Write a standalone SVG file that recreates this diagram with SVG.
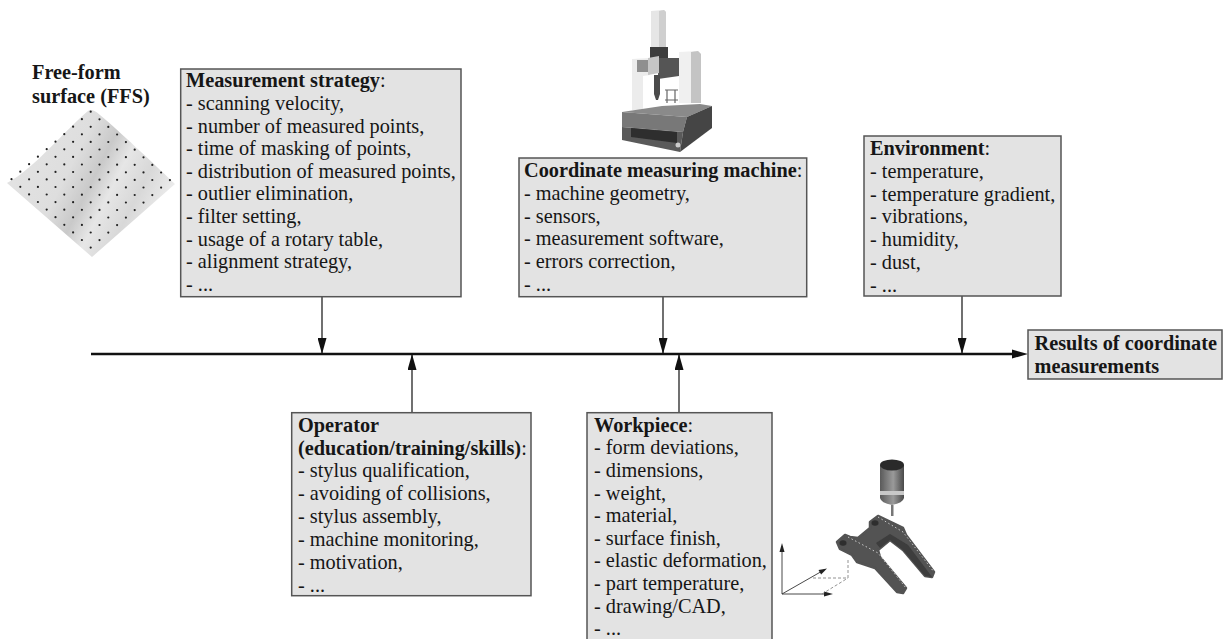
<svg xmlns="http://www.w3.org/2000/svg" width="1225" height="639" viewBox="0 0 1225 639">
<style>
text{font-family:"Liberation Serif","Times New Roman",serif;font-size:20.3px;fill:#161616}
.b{font-weight:bold}
.box{fill:#e3e3e3;stroke:#555;stroke-width:1.5}
.c{stroke:#111;stroke-width:1.2;fill:none}
.main{stroke:#111;stroke-width:2.6;fill:none}
.ax{stroke:#333;stroke-width:.9;fill:none}
.axd{stroke:#777;stroke-width:.8;stroke-dasharray:3 2;fill:none}
.d{fill:#222}
</style>
<defs>
<marker id="ah" markerUnits="userSpaceOnUse" markerWidth="16" markerHeight="9" refX="16" refY="4.5" orient="auto" viewBox="0 0 16 9"><path d="M0 0L16 4.5L0 9Z" fill="#111"/></marker>
<linearGradient id="s" gradientUnits="userSpaceOnUse" x1="30" y1="150" x2="160" y2="215">
<stop offset="0" stop-color="#e2e2e2"/><stop offset=".3" stop-color="#dedede"/><stop offset=".48" stop-color="#c9c9c9"/><stop offset=".62" stop-color="#e6e6e6"/><stop offset=".8" stop-color="#d8d8d8"/><stop offset="1" stop-color="#ececec"/>
</linearGradient>
<linearGradient id="cyl" x1="0" x2="1" y1="0" y2="0"><stop offset="0" stop-color="#5a5a5a"/><stop offset=".55" stop-color="#9a9a9a"/><stop offset="1" stop-color="#4a4a4a"/></linearGradient>
<filter id="soft" x="-5%" y="-5%" width="110%" height="110%"><feGaussianBlur stdDeviation=".45"/></filter>
<g id="row"><circle class="d" cx="0" cy="0" r="1.1"/><circle class="d" cx="8.800" cy="7.600" r="1.1"/><circle class="d" cx="17.600" cy="15.200" r="1.1"/><circle class="d" cx="26.400" cy="22.800" r="1.1"/><circle class="d" cx="35.200" cy="30.400" r="1.1"/><circle class="d" cx="44" cy="38" r="1.1"/><circle class="d" cx="52.800" cy="45.600" r="1.1"/><circle class="d" cx="61.600" cy="53.200" r="1.1"/><circle class="d" cx="70.400" cy="60.800" r="1.1"/><circle class="d" cx="79.200" cy="68.400" r="1.1"/></g>
</defs>
<rect width="1225" height="639" fill="#fff"/>

<g id="connectors">
<path class="main" d="M91 354H1014"/>
<path d="M1028 354L1012 349.500V358.500Z" fill="#111"/>
<path class="c" d="M322 297V354" marker-end="url(#ah)"/>
<path class="c" d="M663 297V354" marker-end="url(#ah)"/>
<path class="c" d="M962 296V354" marker-end="url(#ah)"/>
<path class="c" d="M412 412V354" marker-end="url(#ah)"/>
<path class="c" d="M679 412V354" marker-end="url(#ah)"/>
</g>

<g id="ffs">
<text class="b" x="32" y="79">Free-form</text>
<text class="b" x="32" y="103">surface (FFS)</text>
<path d="M7 183C35 168 65 130 88 111Q92 108 100 115C120 132 150 160 175 184L92 257Z" fill="url(#s)"/>
<use href="#row" x="90.700" y="111.700"/>
<use href="#row" x="81.900" y="119.200"/>
<use href="#row" x="73.100" y="126.700"/>
<use href="#row" x="64.300" y="134.200"/>
<use href="#row" x="55.500" y="141.700"/>
<use href="#row" x="46.700" y="149.200"/>
<use href="#row" x="37.900" y="156.700"/>
<use href="#row" x="29.100" y="164.200"/>
<use href="#row" x="20.300" y="171.700"/>
<use href="#row" x="11.500" y="179.200"/>
</g>

<g id="strategy">
<rect class="box" x="180.700" y="69" width="280.300" height="227.700"/>
<text x="186" y="87"><tspan class="b">Measurement strategy</tspan>:</text>
<text x="186" y="110">- scanning velocity,</text>
<text x="186" y="132.600">- number of measured points,</text>
<text x="186" y="155.200">- time of masking of points,</text>
<text x="186" y="177.800">- distribution of measured points,</text>
<text x="186" y="200.400">- outlier elimination,</text>
<text x="186" y="223">- filter setting,</text>
<text x="186" y="245.600">- usage of a rotary table,</text>
<text x="186" y="268.200">- alignment strategy,</text>
<text x="186" y="290.800">- ...</text>
</g>

<g id="cmm" filter="url(#soft)">
<path d="M651 11L664 10L666 12V49H651Z" fill="#e6e6e6"/>
<path d="M659 11L664 10L666 12V49H659Z" fill="#cfcfcf"/>
<path d="M650 47H668V58H650Z" fill="#3e3e3e"/>
<path d="M632 59L650 58V75L643 76V110H632Z" fill="#ececec"/>
<path d="M637 60H650V72H637Z" fill="#8f8f8f"/>
<path d="M658 58H679V76L658 79Z" fill="#555"/>
<path d="M679 52L698 51L701 54V103H679Z" fill="#f0f0f0"/>
<path d="M691 52L698 51L701 54V103H691Z" fill="#c4c4c4"/>
<path d="M648 58L659 56V73L648 75Z" fill="#c6c6c6"/>
<path d="M654 75H660V94L658 100H656L654 94Z" fill="#4c4c4c"/>
<path d="M665 90H678M665 100H678M667 90V103M675 90V103" stroke="#666" stroke-width="1.2" fill="none"/>
<path d="M622 112L662 106L700 104L712 106L687 117Z" fill="#8a8a8a"/>
<path d="M622 112L687 117L683 132L622 127Z" fill="#787878"/>
<path d="M622 127L683 132L680 152L622 140Z" fill="#5a5a5a"/>
<path d="M631 128L677 132V143L631 137Z" fill="#2e2e2e"/>
<path d="M687 117L712 106V128L680 152L683 132Z" fill="#444"/>
<circle cx="678" cy="145" r="2.500" fill="#ccc"/>
</g>

<g id="machine">
<rect class="box" x="519" y="158" width="287.700" height="138.700"/>
<text x="524" y="177"><tspan class="b">Coordinate measuring machine</tspan>:</text>
<text x="524" y="199.800">- machine geometry,</text>
<text x="524" y="222.600">- sensors,</text>
<text x="524" y="245.400">- measurement software,</text>
<text x="524" y="268.200">- errors correction,</text>
<text x="524" y="291">- ...</text>
</g>

<g id="environment">
<rect class="box" x="864" y="136" width="197" height="160"/>
<text x="870" y="155"><tspan class="b">Environment</tspan>:</text>
<text x="870" y="177.800">- temperature,</text>
<text x="870" y="200.600">- temperature gradient,</text>
<text x="870" y="223.400">- vibrations,</text>
<text x="870" y="246.200">- humidity,</text>
<text x="870" y="269">- dust,</text>
<text x="870" y="291.800">- ...</text>
</g>

<g id="results">
<rect class="box" x="1028" y="330" width="194" height="49"/>
<text class="b" x="1034.500" y="350">Results of coordinate</text>
<text class="b" x="1034.500" y="372.800">measurements</text>
</g>

<g id="operator">
<rect class="box" x="291.700" y="412.700" width="239.300" height="183"/>
<text class="b" x="298" y="431.700">Operator</text>
<text x="298" y="454.500"><tspan class="b">(education/training/skills)</tspan>:</text>
<text x="298" y="477.300">- stylus qualification,</text>
<text x="298" y="500.200">- avoiding of collisions,</text>
<text x="298" y="523">- stylus assembly,</text>
<text x="298" y="545.900">- machine monitoring,</text>
<text x="298" y="568.800">- motivation,</text>
<text x="298" y="591.700">- ...</text>
</g>

<g id="workpiece">
<rect class="box" x="587" y="412.700" width="185" height="232"/>
<text x="594" y="431.700"><tspan class="b">Workpiece</tspan>:</text>
<text x="594" y="454.300">- form deviations,</text>
<text x="594" y="476.900">- dimensions,</text>
<text x="594" y="499.500">- weight,</text>
<text x="594" y="522.100">- material,</text>
<text x="594" y="544.700">- surface finish,</text>
<text x="594" y="567.300">- elastic deformation,</text>
<text x="594" y="589.900">- part temperature,</text>
<text x="594" y="612.500">- drawing/CAD,</text>
<text x="594" y="635">- ...</text>
</g>

<g id="probe" filter="url(#soft)">
<path d="M880 465H904V498Q903 503 892 505Q881 503 880 498Z" fill="url(#cyl)"/>
<ellipse cx="892" cy="465" rx="12" ry="5.500" fill="#2c2c2c"/>
<rect x="880" y="491" width="24" height="4" fill="#c8c8c8"/>
<rect x="891" y="505" width="2.500" height="11" fill="#777"/>
<path d="M837 542L845 535L850 537L858 538L870 528V522L878 516L903 528L906 535L934 572L932 577L925 576L903 550L890 540L878 550L880 557L906 588L903 593L897 592L875 568L857 562L852 555L840 549Z" fill="#525252" stroke="#525252" stroke-width="2.500" stroke-linejoin="round"/>
<path d="M880 548L890 540L903 550L925 576L932 577L908 545L890 534L876 543Z" fill="#3c3c3c"/>
<ellipse cx="843" cy="543" rx="3.500" ry="2.800" fill="#2e2e2e"/>
<ellipse cx="875" cy="523" rx="3.500" ry="2.800" fill="#2e2e2e"/>
<path d="M878 517L903 532L934 572M848 537L878 553L906 588" stroke="#d8d8d8" stroke-width=".9" stroke-dasharray="1.500 2.500" fill="none"/>
</g>
<g id="axes">
<path class="ax" d="M782 594V546M782 594H828M782 594L824 570"/>
<path d="M782 543l-2.500 9h5z" fill="#222"/>
<path d="M833 594l-9-2.500v5z" fill="#222"/>
<path d="M827 568.500l-8.500 1.500 2.600 4.500z" fill="#222"/>
<path class="axd" d="M848 560V578H812M822 594L848 578"/>
</g>
</svg>
